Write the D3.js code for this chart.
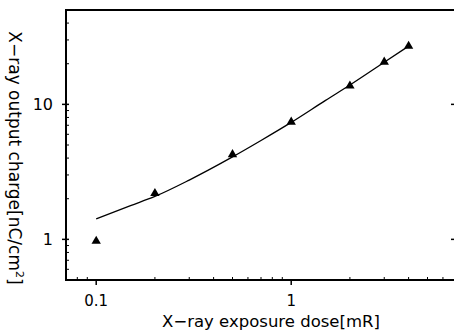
<!DOCTYPE html>
<html><head><meta charset="utf-8">
<script src="https://cdn.jsdelivr.net/npm/d3@7"></script>
<style>body{margin:0;background:#fff}svg{display:block}</style>
</head><body>
<svg id="c" width="454" height="330"></svg>
<script>
// measured data points (triangles)
const doseX = [0.1, 0.2, 0.5, 1, 2, 3, 4];
const chargeY = [0.97, 2.19, 4.25, 7.4, 13.7, 20.6, 27.0];
// fitted curve
const curveX = [0.1, 0.15, 0.2, 0.3, 0.5, 0.7, 1, 1.5, 2, 3, 4];
const curveY = [1.42, 1.78, 2.08, 2.75, 4.08, 5.4, 7.35, 10.7, 13.9, 20.5, 27.0];
const xTicks = [0.1, 1];
const xTickLabels = ["0.1", "1"];
const yTicks = [1, 10];
const yTickLabels = ["1", "10"];
const xMinor = [0.08, 0.09, 0.2, 0.3, 0.4, 0.5, 0.6, 0.7, 0.8, 0.9, 2, 3, 4, 5, 6];
const yMinor = [0.6, 0.7, 0.8, 0.9, 2, 3, 4, 5, 6, 7, 8, 9, 20, 30, 40];

const svg = d3.select("#c");
const L = 66, R = 456, T = 10, B = 280;
const x = d3.scaleLog().domain([0.07, 7]).range([L, R]);
const y = d3.scaleLog().domain([0.5, 50]).range([B, T]);
const font = "DejaVu Sans";

// frame
svg.append("rect").attr("x", L).attr("y", T).attr("width", R - L).attr("height", B - T)
  .attr("fill", "none").attr("stroke", "#000").attr("stroke-width", 2);

// ticks
const g = svg.append("g").attr("stroke", "#000").attr("stroke-width", 1);
xTicks.forEach(v => g.append("line").attr("x1", x(v)).attr("x2", x(v)).attr("y1", B).attr("y2", B + 5).attr("stroke-width", 1.5));
xMinor.forEach(v => g.append("line").attr("x1", x(v)).attr("x2", x(v)).attr("y1", B).attr("y2", B - 3));
yTicks.forEach(v => {
  g.append("line").attr("x1", L - 4).attr("x2", L + 3).attr("y1", y(v)).attr("y2", y(v)).attr("stroke-width", 1.5);
  g.append("line").attr("x1", R).attr("x2", R - 5).attr("y1", y(v)).attr("y2", y(v)).attr("stroke-width", 1.5);
});
yMinor.forEach(v => g.append("line").attr("x1", L).attr("x2", L + 3).attr("y1", y(v)).attr("y2", y(v)));

// tick labels
xTicks.forEach((v, i) => svg.append("text").attr("x", x(v)).attr("y", B + 26)
  .attr("text-anchor", "middle").attr("font-family", font).attr("font-size", 15).text(xTickLabels[i]));
yTicks.forEach((v, i) => svg.append("text").attr("x", 53).attr("y", y(v)).attr("dy", "0.36em")
  .attr("text-anchor", "end").attr("font-family", font).attr("font-size", 16).text(yTickLabels[i]));

// axis titles
svg.append("text").attr("x", 271).attr("y", 327).attr("text-anchor", "middle")
  .attr("font-family", font).attr("font-size", 16.5).text("X\u2212ray exposure dose[mR]");
const yt = svg.append("text").attr("transform", "translate(9,158) rotate(90)").attr("text-anchor", "middle")
  .attr("font-family", font).attr("font-size", 17);
yt.append("tspan").text("X\u2212ray output charge[nC/cm");
yt.append("tspan").attr("dy", -7).attr("font-size", 11).text("2");
yt.append("tspan").attr("dy", 7).text("]");

// curve
const line = d3.line().x(d => x(d[0])).y(d => y(d[1])).curve(d3.curveMonotoneX);
svg.append("path").datum(curveX.map((v, i) => [v, curveY[i]])).attr("d", line)
  .attr("fill", "none").attr("stroke", "#000").attr("stroke-width", 1.3);

// triangles
svg.selectAll("path.pt").data(doseX.map((v, i) => [v, chargeY[i]])).join("path")
  .attr("class", "pt").attr("d", d3.symbol(d3.symbolTriangle, 38))
  .attr("transform", d => `translate(${x(d[0])},${y(d[1])})`).attr("fill", "#000");
</script>
</body></html>
